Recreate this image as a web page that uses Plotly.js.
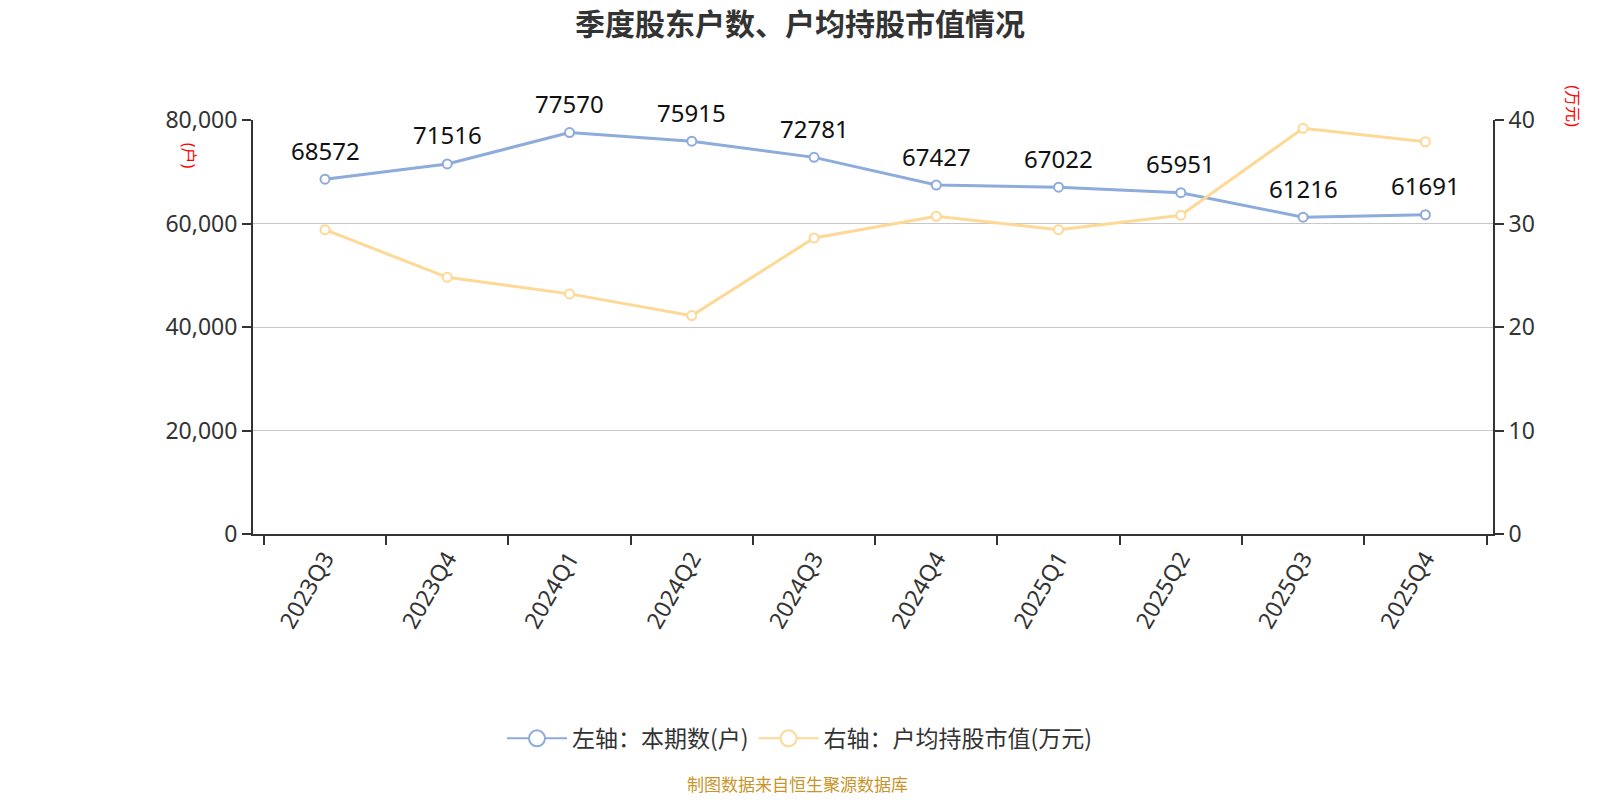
<!DOCTYPE html>
<html>
<head>
<meta charset="utf-8">
<script src="https://cdn.plot.ly/plotly-3.0.1.min.js"></script>
<style>
  html, body { margin: 0; padding: 0; background: #fff; }
  #myDiv { width: 1600px; height: 800px; }
</style>
</head>
<body>
<div id="myDiv"></div>
<script>
// quarters on the x axis
var quarters = ['2023Q3', '2023Q4', '2024Q1', '2024Q2', '2024Q3', '2024Q4', '2025Q1', '2025Q2', '2025Q3', '2025Q4'];
// left axis: shareholder count (户)
var holders = [68572, 71516, 77570, 75915, 72781, 67427, 67022, 65951, 61216, 61691];
// right axis: avg market value per holder (万元)
var avgValue = [29.4, 24.8, 23.2, 21.1, 28.6, 30.7, 29.4, 30.8, 39.2, 37.9];

var fontFamily = '"Noto Sans", "Noto Sans CJK SC", sans-serif';
var blue = '#8dabdb';
var yellow = '#fdd995';

var trace1 = {
  x: quarters,
  y: holders,
  name: '左轴：本期数(户)',
  type: 'scatter',
  mode: 'lines+markers',
  line: {color: blue, width: 3},
  marker: {size: 9, color: '#fff', line: {color: blue, width: 2}},
  cliponaxis: false,
  showlegend: false
};

var trace2 = {
  x: quarters,
  y: avgValue,
  name: '右轴：户均持股市值(万元)',
  yaxis: 'y2',
  type: 'scatter',
  mode: 'lines+markers',
  line: {color: yellow, width: 3},
  marker: {size: 9, color: '#fff', line: {color: yellow, width: 2}},
  cliponaxis: false,
  showlegend: false
};

// legend-only entries so the legend circles can be bigger
var leg1 = {
  x: [quarters[0]], y: [null], name: trace1.name, type: 'scatter', mode: 'lines+markers',
  line: {color: blue, width: 2}, marker: {size: 16, color: '#fff', line: {color: blue, width: 2}}
};
var leg2 = {
  x: [quarters[0]], y: [null], name: trace2.name, type: 'scatter', mode: 'lines+markers', yaxis: 'y2',
  line: {color: yellow, width: 2}, marker: {size: 16, color: '#fff', line: {color: yellow, width: 2}}
};

// value labels over the blue line
var labels = holders.map(function (v, i) {
  return {
    x: quarters[i], y: v, xref: 'x', yref: 'y',
    text: String(v), showarrow: false, yshift: 29,
    font: {size: 24, color: '#111'}
  };
});

var layout = {
  width: 1600,
  height: 800,
  margin: {l: 253, r: 107, t: 120, b: 266},
  paper_bgcolor: '#fff',
  plot_bgcolor: '#fff',
  font: {family: fontFamily, color: '#333', size: 22},
  title: {
    text: '<b>季度股东户数、户均持股市值情况</b>',
    x: 0.5, xanchor: 'center', y: 0.97, yanchor: 'middle',
    font: {size: 30, color: '#333', family: '"Noto Sans CJK SC", sans-serif'}
  },
  xaxis: {
    type: 'category',
    tickson: 'boundaries',
    ticks: 'outside', ticklen: 9, tickwidth: 2, tickcolor: '#333',
    showline: true, linecolor: '#333', linewidth: 2,
    showgrid: false,
    tickangle: -60,
    tickfont: {size: 23, color: '#333'}
  },
  yaxis: {
    range: [0, 80000],
    dtick: 20000,
    tickformat: ',d',
    ticks: 'outside', ticklen: 9, tickwidth: 2, tickcolor: '#333',
    showline: true, linecolor: '#333', linewidth: 2,
    showgrid: true, gridcolor: '#c8c8c8', gridwidth: 1,
    zeroline: false,
    tickfont: {size: 23, color: '#333'}
  },
  yaxis2: {
    overlaying: 'y',
    side: 'right',
    range: [0, 40],
    dtick: 10,
    ticks: 'outside', ticklen: 9, tickwidth: 2, tickcolor: '#333',
    showline: true, linecolor: '#333', linewidth: 2,
    showgrid: false,
    zeroline: false,
    tickfont: {size: 23, color: '#333'}
  },
  legend: {
    orientation: 'h',
    xref: 'container', x: 0.5, xanchor: 'center',
    yref: 'container', y: 0.077, yanchor: 'middle',
    font: {size: 23, color: '#333', family: '"Noto Sans CJK SC", sans-serif'},
    itemwidth: 60
  },
  annotations: labels.concat([
    {
      text: '(户)', xref: 'paper', yref: 'paper', x: -0.0514, y: 0.913,
      xanchor: 'center', yanchor: 'middle',
      showarrow: false, textangle: 90, font: {size: 16, color: '#ff0000'}
    },
    {
      text: '(万元)', xref: 'paper', yref: 'paper', x: 1.065, y: 1.09,
      xanchor: 'center', yanchor: 'top',
      showarrow: false, textangle: 90, font: {size: 16, color: '#ff0000'}
    },
    {
      text: '制图数据来自恒生聚源数据库', xref: 'paper', yref: 'paper',
      x: 0.4395, y: -0.638, yanchor: 'bottom', xanchor: 'center',
      showarrow: false, font: {size: 17, color: '#c9952a', family: '"Noto Sans CJK SC", sans-serif'}
    }
  ])
};

Plotly.newPlot('myDiv', [trace1, trace2, leg1, leg2], layout, {displayModeBar: false});
</script>
</body>
</html>
